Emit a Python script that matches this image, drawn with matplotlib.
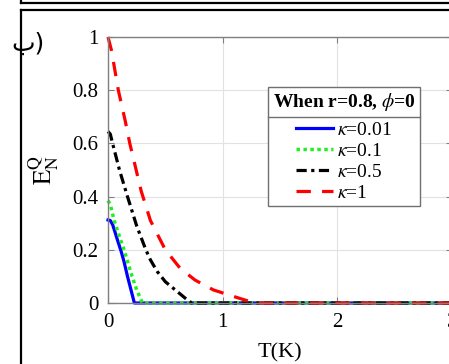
import numpy as np
import matplotlib
matplotlib.use('Agg')
import matplotlib.pyplot as plt
from matplotlib.lines import Line2D

plt.rcParams['font.family'] = ['Liberation Serif', 'DejaVu Sans']
plt.rcParams['mathtext.fontset'] = 'stix'

# curves, E_N^Q vs T(K)
t_k001 = [0, 0.02, 0.04, 0.06, 0.08, 0.114, 0.14, 0.17, 0.2, 0.23, 3.0]
e_k001 = [0.312, 0.31, 0.295, 0.268, 0.24, 0.195, 0.155, 0.1, 0.05, 0.0, 0.0]

t_k01 = [0, 0.02, 0.054, 0.1, 0.14, 0.21, 0.25, 0.3, 3.0]
e_k01 = [0.385, 0.37, 0.31, 0.25, 0.2, 0.1, 0.05, 0.0, 0.0]

t_k05 = [0, 0.02, 0.04, 0.1, 0.17, 0.25, 0.33, 0.37, 0.43, 0.5, 0.587, 0.674, 0.73, 3.0]
e_k05 = [0.645, 0.635, 0.6, 0.5, 0.4, 0.29, 0.2, 0.162, 0.118, 0.08, 0.049, 0.018, 0.0, 0.0]

t_k1 = [0, 0.03, 0.09, 0.15, 0.19, 0.29, 0.37, 0.5, 0.63, 0.76, 0.92, 1.1, 1.24, 1.3, 3.0]
e_k1 = [1.0, 0.95, 0.8, 0.685, 0.6, 0.42, 0.31, 0.2, 0.13, 0.086, 0.049, 0.024, 0.005, 0.0, 0.0]

xticks = [0, 1, 2, 3]
yticks = [0, 0.2, 0.4, 0.6, 0.8, 1]

W, H = 449, 364
fig = plt.figure(figsize=(W / 100, H / 100), dpi=100)
ax = fig.add_axes([108 / W, 1 - 303 / H, 344 / W, 266 / H])

ax.plot(t_k001, e_k001, color='#0000ff', lw=2.3, ls='-', label=r'$\kappa$=0.01', clip_on=False)
ax.plot(t_k01, e_k01, color='#22ee22', lw=2.5, ls=(0, (1, 1)), label=r'$\kappa$=0.1', clip_on=False)
ax.plot(t_k05, e_k05, color='black', lw=2.3, ls=(0, (3.2, 1.4, 1, 1.4)), label=r'$\kappa$=0.5', clip_on=False)
ax.plot(t_k1, e_k1, color='#ff0000', lw=2.3, ls=(0, (4.5, 3.5)), label=r'$\kappa$=1', clip_on=False)

ax.set_xlim(0, 3)
ax.set_ylim(0, 1)
ax.set_xticks(xticks)
ax.set_yticks(yticks)
ax.set_yticklabels(['0', '0.2', '0.4', '0.6', '0.8', '1'])
ax.tick_params(direction='in', length=4, color='#808080', labelsize=15, pad=7,
               top=True, right=True)
ax.grid(True, color='#e2e2e2', lw=0.8)
ax.set_axisbelow(True)
for s in ax.spines.values():
    s.set_color('#808080')
    s.set_linewidth(1)

ax.set_xlabel('T(K)', fontsize=16, labelpad=8)
ax.set_ylabel(r'$\mathrm{E}_{\mathrm{N}}^{\mathrm{Q}}$', fontsize=18, labelpad=8)

leg = ax.legend(loc='upper right', bbox_to_anchor=((420 - 108) / 344, (303 - 87) / 266),
                borderaxespad=0, fontsize=14, title=r'When r=0.8, $\phi$=0',
                title_fontproperties={'weight': 'bold', 'size': 14},
                fancybox=False, framealpha=1, edgecolor='#707070',
                handlelength=1.9, handletextpad=0.2, labelspacing=0.17,
                borderpad=0.22)
leg.get_frame().set_linewidth(1)
leg._legend_box.sep = 6

# separator under the legend title
fig.canvas.draw()
r = fig.canvas.get_renderer()
fb = leg.get_frame().get_window_extent(r)
tb = leg.get_title().get_window_extent(r)
hb = leg._legend_handle_box.get_window_extent(r)
ysep = (tb.y0 + hb.y1) / 2
inv = fig.transFigure.inverted()
(x0, y0), (x1, y1) = inv.transform([(fb.x0, ysep), (fb.x1, ysep)])
fig.add_artist(Line2D([x0, x1], [y0, y1], color='#707070', lw=1))

# panel frame
def px(x, y):
    return x / W, 1 - y / H

for (xa, ya), (xb, yb) in [((21, 3), (W, 3)), ((21, 0), (21, 3)),
                           ((21, 10), (W, 10)), ((21, 10), (21, H))]:
    a, b = px(xa, ya), px(xb, yb)
    fig.add_artist(Line2D([a[0], b[0]], [a[1], b[1]], color='black', lw=1.6))

fig.text(28 / W, 1 - 44 / H, 'ب)', fontsize=18, ha='center', va='center',
         family=['DejaVu Sans', 'Liberation Serif'])

fig.savefig('out.png', dpi=100)
